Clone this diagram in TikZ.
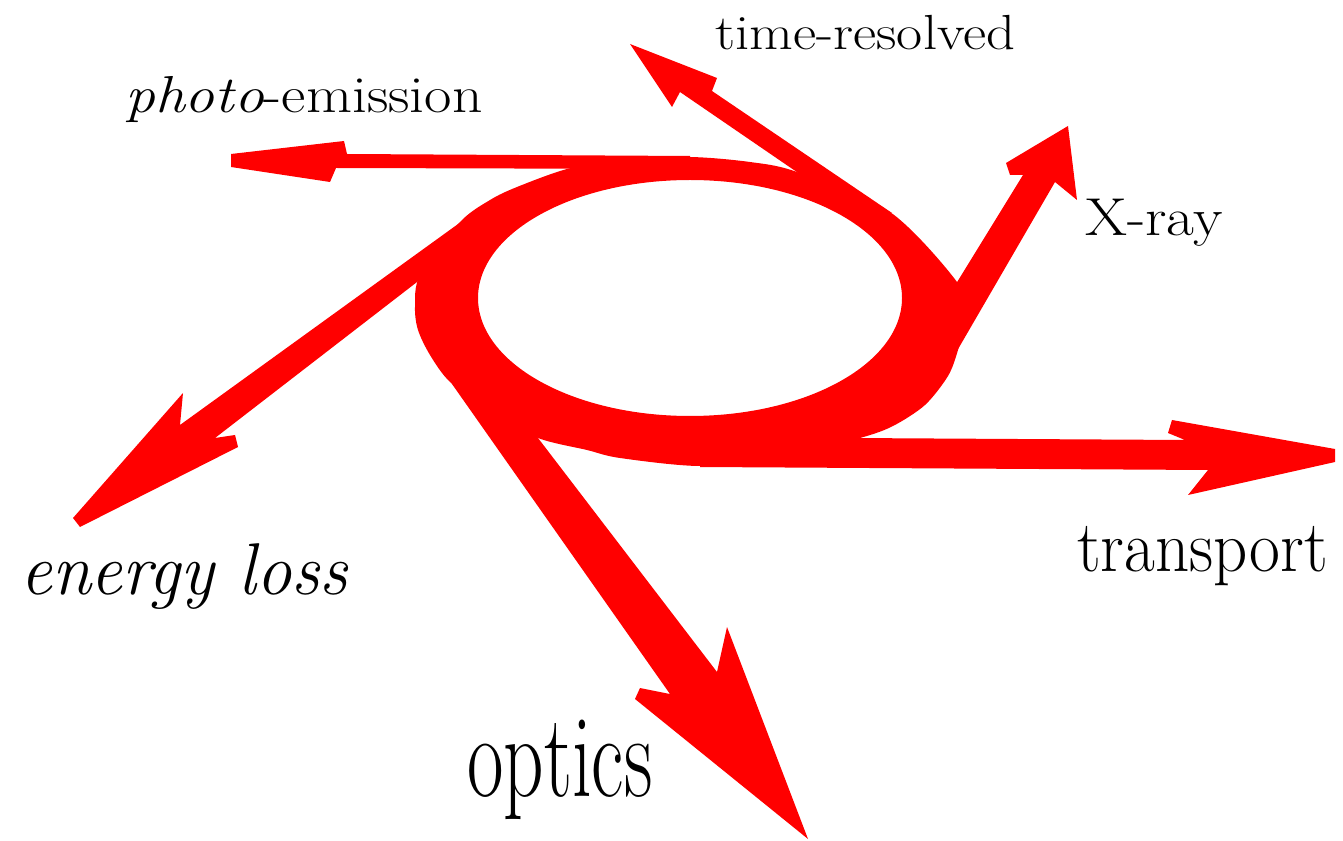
\documentclass[tikz,border=0pt]{standalone}
\usepackage{graphicx}
\newcommand{\fitw}[2]{\resizebox{#1}{\height}{#2}}
\begin{document}
\begin{tikzpicture}[x=0.75pt,y=-0.75pt,
  redfill/.style={fill=red},
  lbl/.style={inner sep=0pt, anchor=base west, text=black}]
\useasboundingbox (0,0) rectangle (1343,841);
% ring
\fill[redfill, even odd rule]
  plot[smooth cycle, tension=0.5] coordinates {
    (690,157) (750,162) (797,172) (890,212) (957,282) (966,316) (958,350)
    (948,376) (925,405) (893,426) (860,438) (780,458) (700,466)
    (620,458) (587,450) (538,438) (490,412) (450,382) (430,355)
    (418,330) (415,307) (420,275) (460,222) (490,200) (517,187)
    (567,169) (620,160)}
  (690,298) ellipse [x radius=212, y radius=118];
% photo-emission arrow
\fill[redfill] (690,156) -- (347,154) -- (344,141) -- (231,154) -- (231,167)
  -- (330,182) -- (336,168) -- (690,169) -- cycle;
% time-resolved arrow
\fill[redfill] (630,44) -- (717,78) -- (712,91) -- (892,213) -- (845,205)
  -- (680,92) -- (672,107) -- cycle;
% X-ray arrow
\fill[redfill] (1068,126) -- (1077,200) -- (1055,182) -- (943,375) -- (935,318)
  -- (1023,175) -- (1010,175) -- (1006,163) -- cycle;
% transport arrow
\fill[redfill] (1335,449) -- (1335,462) -- (1188,495) -- (1208,470) -- (700,467)
  -- (700,450) -- (850,438) -- (1185,440) -- (1168,433) -- (1172,420) -- cycle;
% optics arrow
\fill[redfill] (452,384) -- (500,390) -- (538,438) -- (717,672) -- (727,627)
  -- (808,839) -- (635,699) -- (640,688) -- (670,694) -- cycle;
% energy loss arrow
\fill[redfill] (465,219) -- (180,425) -- (183,393) -- (73,518) -- (80,527)
  -- (238,447) -- (235,435) -- (215,438) -- (430,272) -- cycle;
% labels
\node[lbl] (pe) at (125,113) {\fontsize{39}{44}\selectfont\fitw{268pt}{\textit{photo}-emission}};
\node[lbl] (tr) at (715,50) {\fontsize{37}{42}\selectfont\fitw{225pt}{time-resolved}};
\node[lbl] (xr) at (1085,236) {\fontsize{40}{45}\selectfont\fitw{103pt}{X-ray}};
\node[lbl] (el) at (20,594) {\fontsize{55}{62}\selectfont\fitw{246pt}{\itshape energy loss}};
\node[lbl] (tp) at (1077,572) {\fontsize{55}{62}\selectfont\fitw{188pt}{transport}};
\node[lbl] (op) at (467,796) {\fontsize{89}{100}\selectfont\fitw{139pt}{optics}};
\end{tikzpicture}
\end{document}
